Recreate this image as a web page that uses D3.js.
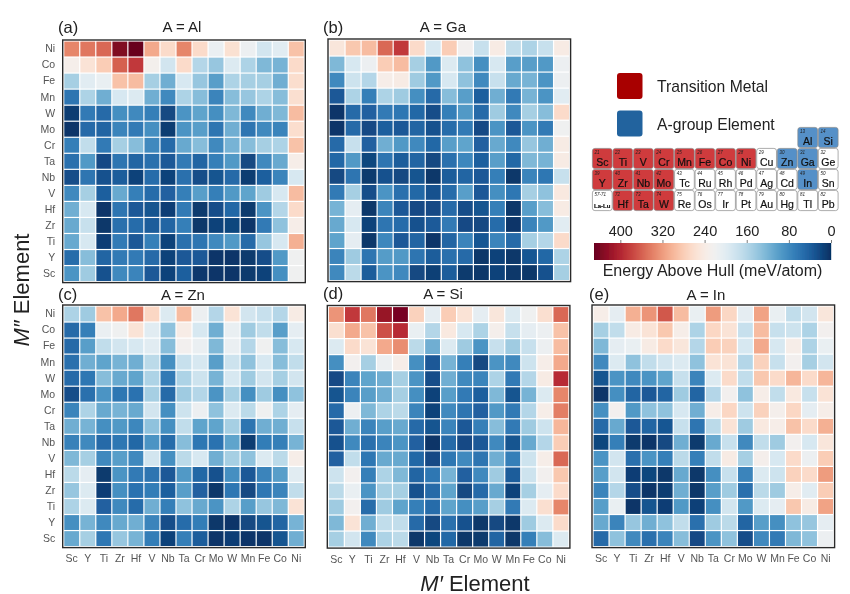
<!DOCTYPE html>
<html><head><meta charset="utf-8">
<script src="https://cdn.jsdelivr.net/npm/d3@7"></script>
<style>html,body{margin:0;padding:0;background:#fff}svg{display:block}text{font-family:"Liberation Sans",Arial,sans-serif}</style>
</head><body><svg id="c" width="850" height="594"></svg>
<script>
const mPrimeLabels=["Sc","Y","Ti","Zr","Hf","V","Nb","Ta","Cr","Mo","W","Mn","Fe","Co","Ni"];
const mDoublePrimeLabels=["Ni","Co","Fe","Mn","W","Mo","Cr","Ta","Nb","V","Hf","Zr","Ti","Y","Sc"];
const colorbarTicks=[400,320,240,160,80,0];
const energyAl=[
[335,345,355,435,450,310,265,335,265,212,258,215,185,200,290],
[232,255,280,360,385,228,185,265,160,140,195,155,125,120,265],
[150,200,210,290,295,150,115,190,140,100,155,150,150,115,262],
[60,155,115,190,195,115,80,155,130,75,130,140,155,130,260],
[10,65,50,85,80,70,20,90,105,85,125,80,115,125,295],
[5,50,45,75,65,85,10,90,100,60,115,60,80,75,262],
[70,170,65,150,130,80,50,110,130,80,120,130,150,155,290],
[55,95,22,60,45,55,35,65,45,70,95,20,80,110,235],
[25,60,28,38,15,52,15,55,25,30,50,10,40,75,190],
[80,150,40,110,70,52,42,70,100,70,95,105,145,190,295],
[115,190,5,60,35,30,12,65,8,25,48,8,90,160,265],
[110,175,6,55,52,38,45,70,6,15,18,5,65,135,235],
[110,190,12,65,35,70,15,55,60,80,95,50,140,190,305],
[52,130,45,65,65,50,15,35,35,5,5,8,25,95,220],
[90,145,28,80,75,35,15,40,7,5,5,8,15,85,220]];
const energyGa=[
[250,285,295,355,385,265,190,280,225,175,240,170,155,175,240],
[125,190,215,280,295,150,95,195,135,85,190,100,100,95,215],
[80,180,160,235,240,145,95,190,135,80,175,110,120,90,215],
[35,155,70,155,145,85,50,130,100,40,115,65,120,90,200],
[5,50,42,65,62,48,25,70,95,50,145,80,150,130,265],
[5,50,22,40,35,45,28,52,65,22,90,35,90,65,220],
[50,175,42,115,95,80,48,100,105,42,110,80,140,115,240],
[48,95,18,60,38,45,20,55,78,40,100,48,125,120,240],
[20,60,8,28,20,30,6,38,45,35,70,6,75,62,175],
[65,150,25,90,55,48,28,52,100,35,85,62,150,135,245],
[120,205,6,75,35,22,22,50,25,30,70,6,100,130,240],
[110,190,15,60,52,28,36,65,22,20,52,5,75,95,200],
[105,205,6,78,35,45,5,45,75,32,75,50,150,160,265],
[75,145,60,98,95,60,38,55,50,6,15,6,32,48,155],
[80,165,38,90,80,20,13,38,8,6,15,6,6,28,150]];
const energyZn=[
[155,145,290,310,345,270,195,295,215,160,255,185,175,160,240],
[50,70,212,220,255,200,135,238,190,115,210,145,170,100,205],
[50,100,170,185,190,200,130,225,212,125,212,160,220,130,190],
[55,115,105,120,115,165,85,175,190,100,180,135,190,130,170],
[50,62,130,110,105,155,65,155,180,120,190,145,185,150,185],
[25,55,90,62,58,150,50,145,160,90,150,85,145,85,135],
[75,155,110,120,110,185,85,180,215,135,195,165,220,155,205],
[115,120,85,95,78,135,85,170,105,105,150,60,115,115,175],
[72,80,50,62,48,90,52,130,62,58,105,10,68,70,120],
[125,150,80,100,80,185,85,165,190,115,150,135,195,165,235],
[165,205,8,90,65,60,35,95,48,28,85,35,75,100,200],
[140,195,12,85,58,68,40,100,42,6,62,20,62,75,170],
[155,195,42,80,52,115,70,135,110,90,155,100,140,125,255],
[85,120,80,110,115,75,25,52,68,6,5,20,30,45,120],
[110,150,62,140,120,68,15,70,38,5,12,5,5,30,115]];
const energySi=[
[325,385,345,420,440,275,205,280,255,205,250,195,220,260,355],
[260,310,290,370,395,210,160,245,190,155,230,175,205,215,290],
[195,265,255,310,330,165,115,195,145,90,175,145,175,215,295],
[85,225,150,215,235,85,35,120,70,20,90,80,180,235,310],
[22,75,105,115,150,90,25,115,80,75,155,65,160,240,395],
[30,75,100,115,150,85,15,100,65,40,125,30,120,195,335],
[50,215,125,155,165,75,15,80,60,42,95,65,160,235,340],
[35,115,75,100,110,50,30,75,35,70,130,65,145,180,300],
[28,80,55,75,90,42,4,50,22,35,80,30,110,160,280],
[42,170,62,110,110,48,22,62,80,60,115,70,180,235,355],
[180,225,70,155,125,45,62,120,42,80,145,38,180,225,285],
[165,210,90,150,150,28,50,105,20,50,110,15,150,205,265],
[145,225,52,145,105,70,52,105,85,100,150,65,195,260,335],
[125,255,115,170,170,50,20,55,28,6,20,6,145,195,265],
[150,185,80,155,165,6,18,48,6,8,45,6,70,130,195]];
const energyIn=[
[235,205,305,325,365,295,210,320,270,205,315,210,170,185,250],
[150,170,240,255,285,235,155,270,255,175,295,175,180,155,225],
[125,205,210,240,265,250,160,280,275,190,310,190,235,155,210],
[80,195,135,170,185,195,135,255,255,160,275,175,225,150,185],
[30,90,80,90,105,175,75,195,265,170,285,265,300,265,300],
[5,85,45,35,45,145,45,160,225,135,235,170,245,175,255],
[85,225,95,135,135,190,115,235,270,180,275,230,270,205,235],
[50,110,35,45,32,175,60,165,255,145,245,235,290,265,305],
[18,70,8,5,20,115,8,110,175,80,170,145,225,190,250],
[90,185,55,90,70,165,70,170,240,150,230,190,265,215,280],
[100,185,12,18,6,110,6,85,175,75,195,180,275,265,320],
[75,160,25,5,10,115,6,100,145,55,165,145,235,200,280],
[100,210,4,30,12,95,14,85,185,95,195,205,285,240,315],
[110,75,140,115,135,170,55,145,165,45,100,85,135,140,205],
[50,135,80,55,75,130,22,90,135,25,80,65,125,135,215]];
const ptSymbols=[
["","","","","","","","","","","Al","Si"],
["Sc","Ti","V","Cr","Mn","Fe","Co","Ni","Cu","Zn","Ga","Ge"],
["Y","Zr","Nb","Mo","Tc","Ru","Rh","Pd","Ag","Cd","In","Sn"],
["La-Lu","Hf","Ta","W","Re","Os","Ir","Pt","Au","Hg","Tl","Pb"]];
const ptNumbers=[
[0,0,0,0,0,0,0,0,0,0,13,14],
[21,22,23,24,25,26,27,28,29,30,31,32],
[39,40,41,42,43,44,45,46,47,48,49,50],
["57-71",72,73,74,75,76,77,78,79,80,81,82]];
const transitionMetals=["Sc","Ti","V","Cr","Mn","Fe","Co","Ni","Y","Zr","Nb","Mo","Hf","Ta","W"];
const aGroup=["Al","Si","Zn","Ga","In"];

const panels=[
 {tag:"(a)",title:"A = Al",data:energyAl,x:62.7,y:40,tagX:58,tagY:33,titleX:182,titleY:32,left:true,bottom:false},
 {tag:"(b)",title:"A = Ga",data:energyGa,x:328,y:39,tagX:323,tagY:33,titleX:443,titleY:32,left:false,bottom:false},
 {tag:"(c)",title:"A = Zn",data:energyZn,x:62.7,y:305,tagX:58,tagY:300,titleX:183,titleY:300,left:true,bottom:true},
 {tag:"(d)",title:"A = Si",data:energySi,x:327.3,y:305.5,tagX:323,tagY:299,titleX:443,titleY:299,left:false,bottom:true},
 {tag:"(e)",title:"A = In",data:energyIn,x:592,y:305,tagX:589,tagY:300,titleX:706,titleY:300,left:false,bottom:true}];
const size=242.6;
const color=d3.scaleSequential(d3.interpolateRdBu).domain([450,0]);
const svg=d3.select("#c");
const defs=svg.append("defs");
defs.append("filter").attr("id","soft").attr("x",0).attr("y",0).attr("width",1).attr("height",1)
  .attr("filterUnits","objectBoundingBox").append("feGaussianBlur").attr("stdDeviation",0.3);
const root=svg.append("g").attr("filter","url(#soft)");
root.append("rect").attr("width",850).attr("height",594).attr("fill","#fff");

panels.forEach(p=>{
  const g=root.append("g").attr("transform",`translate(${p.x},${p.y})`);
  const xs=d3.scaleBand().domain(mPrimeLabels).range([1,size-1]);
  const ys=d3.scaleBand().domain(mDoublePrimeLabels).range([1,size-1]);
  mDoublePrimeLabels.forEach((r,i)=>mPrimeLabels.forEach((c,j)=>{
    g.append("rect").attr("x",xs(c)+.6).attr("y",ys(r)+.6)
     .attr("width",xs.bandwidth()-1.2).attr("height",ys.bandwidth()-1.2)
     .attr("fill",color(p.data[i][j]));
  }));
  g.append("rect").attr("width",size).attr("height",size).attr("fill","none").attr("stroke","#2b2b2b").attr("stroke-width",1.4);
  if(p.bottom){
    const a=g.append("g").attr("transform",`translate(0,${size})`).call(d3.axisBottom(xs).tickSize(0).tickPadding(7));
    a.select(".domain").remove();
    a.selectAll("text").attr("font-size",10.5).attr("fill","#555").style("font-family",'"Liberation Sans"');
  }
  if(p.left){
    const a=g.append("g").call(d3.axisLeft(ys).tickSize(0).tickPadding(7.5));
    a.select(".domain").remove();
    a.selectAll("text").attr("font-size",10.5).attr("fill","#555").style("font-family",'"Liberation Sans"');
  }
  root.append("text").attr("x",p.tagX).attr("y",p.tagY).attr("font-size",16.5).attr("fill","#222").text(p.tag);
  root.append("text").attr("x",p.titleX).attr("y",p.titleY).attr("text-anchor","middle").attr("font-size",15).attr("fill","#222").text(p.title);
});

// axis titles
const yl=root.append("text").attr("transform","translate(29,290) rotate(-90)").attr("text-anchor","middle").attr("font-size",22).attr("fill","#222");
yl.append("tspan").attr("font-style","italic").text("M″");yl.append("tspan").text(" Element");
const xl=root.append("text").attr("x",475).attr("y",590.5).attr("text-anchor","middle").attr("font-size",22).attr("fill","#222");
xl.append("tspan").attr("font-style","italic").text("M′");xl.append("tspan").text(" Element");

// legend swatches
[["Transition Metal","#a80000",73],["A-group Element","#23649e",110.5]].forEach(([t,c,y])=>{
  root.append("rect").attr("x",617).attr("y",y).attr("width",25.5).attr("height",26).attr("rx",3).attr("fill",c);
  root.append("text").attr("x",657).attr("y",y+19).attr("font-size",15.7).attr("fill","#222").text(t);
});

// periodic table
const ptX=d3.scaleBand().domain(d3.range(12)).range([592,838.5]);
const ptY=d3.scaleBand().domain(d3.range(4)).range([127,211]);
ptSymbols.forEach((row,i)=>row.forEach((s,j)=>{
  if(!s)return;
  const fill=transitionMetals.includes(s)?"#cf3a3c":aGroup.includes(s)?"#5590c8":"#fff";
  const x=ptX(j),y=ptY(i),w=ptX.bandwidth(),h=ptY.bandwidth();
  root.append("rect").attr("x",x+.4).attr("y",y+.4).attr("width",w-.8).attr("height",h-.8).attr("rx",2.5)
    .attr("fill",fill).attr("stroke","#8a8a8a").attr("stroke-width",.7);
  root.append("text").attr("x",x+2.5).attr("y",y+5.5).attr("font-size",4.5).attr("font-style","italic").attr("fill","#222").text(ptNumbers[i][j]);
  root.append("text").attr("x",x+w/2).attr("y",y+h-3.5).attr("text-anchor","middle")
    .attr("font-size",s.length>2?6:10.5).attr("font-weight",s.length>2?"bold":"normal").attr("fill","#111").attr("stroke","#111").attr("stroke-width",.2).text(s);
}));

// colour bar
const cbScale=d3.scaleLinear().domain([0,450]).range([831,594]);
const cbG=root.append("g");
d3.range(594,831,1).forEach(px=>{
  cbG.append("rect").attr("x",px).attr("y",243).attr("width",1.2).attr("height",17).attr("fill",color(cbScale.invert(px+.5)));
});
const cbAxis=root.append("g").attr("transform","translate(0,243)").call(d3.axisTop(cbScale).tickValues(colorbarTicks).tickSize(3).tickPadding(4).tickFormat(d3.format("d")));
cbAxis.select(".domain").remove();
cbAxis.selectAll("line").attr("stroke","#444").attr("stroke-width",.7);
cbAxis.selectAll("text").attr("font-size",14.5).attr("fill","#222").style("font-family",'"Liberation Sans"');
root.append("text").attr("x",712.5).attr("y",276).attr("text-anchor","middle").attr("font-size",16).attr("fill","#222").text("Energy Above Hull (meV/atom)");
</script></body></html>
